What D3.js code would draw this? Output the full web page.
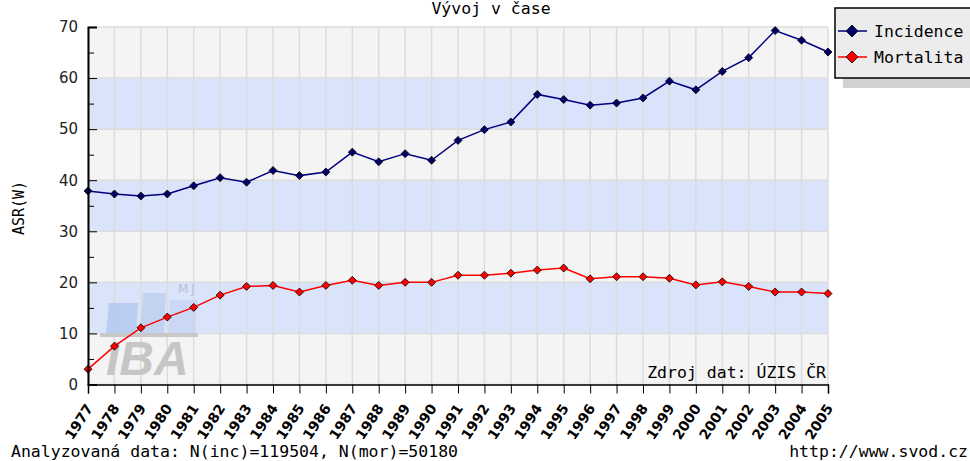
<!DOCTYPE html>
<html>
<head>
<meta charset="utf-8">
<script src="https://cdn.jsdelivr.net/npm/d3@7"></script>
<style>
  body { margin: 0; background: #fff; }
  svg { display: block; }
</style>
</head>
<body>
<svg width="970" height="461"></svg>
<script>
"use strict";

// Data
var years = d3.range(1977, 2006);
var incidence = [37.9, 37.3, 36.9, 37.3, 38.9, 40.5, 39.6, 41.9, 40.9, 41.6,
                 45.5, 43.6, 45.2, 43.9, 47.8, 49.9, 51.4, 56.8, 55.8, 54.7,
                 55.1, 56.1, 59.4, 57.7, 61.3, 64.0, 69.3, 67.4, 65.1];
var mortality = [3.0, 7.5, 11.1, 13.2, 15.1, 17.5, 19.2, 19.4, 18.1, 19.4,
                 20.4, 19.4, 20.0, 20.0, 21.4, 21.4, 21.8, 22.4, 22.8, 20.7,
                 21.1, 21.1, 20.8, 19.5, 20.1, 19.2, 18.1, 18.1, 17.8];
var seriesNames = ["Incidence", "Mortalita"];
var yMajor = [0, 10, 20, 30, 40, 50, 60, 70];
var yMinor = [5, 15, 25, 35, 45, 55, 65];

var mono = "'DejaVu Sans Mono', monospace";
var sans = "'DejaVu Sans', sans-serif";

var svg = d3.select("svg");

// Scales
var x = d3.scaleLinear().domain([1977, 2005]).range([88, 828]);
var y = d3.scaleLinear().domain([0, 70]).range([384.5, 27]);

// Background bands
var bands = d3.range(0, 70, 10);
svg.append("g")
    .selectAll("rect")
    .data(bands)
    .enter().append("rect")
    .attr("x", x(1977))
    .attr("y", function(d) { return y(d + 10); })
    .attr("width", x(2005) - x(1977))
    .attr("height", function(d) { return y(d) - y(d + 10); })
    .attr("fill", function(d) { return (d / 10) % 2 === 1 ? "#d9e3fa" : "#f4f4f4"; });

// Gridlines
var grid = svg.append("g").attr("stroke", "#dcdcdc").attr("stroke-width", 1.5);
grid.selectAll("line.v")
    .data(years)
    .enter().append("line")
    .attr("class", "v")
    .attr("x1", function(d) { return x(d); })
    .attr("x2", function(d) { return x(d); })
    .attr("y1", y(70))
    .attr("y2", y(0));
grid.selectAll("line.h")
    .data(yMajor)
    .enter().append("line")
    .attr("class", "h")
    .attr("x1", x(1977))
    .attr("x2", x(2005))
    .attr("y1", function(d) { return y(d); })
    .attr("y2", function(d) { return y(d); });

// Watermark logo
var logo = svg.append("g").attr("class", "logo");
logo.append("path")
    .attr("d", "M109,303 L138,303 L136,333 L106,333 Z")
    .attr("fill", "#9fbbeb").attr("opacity", 0.55);
logo.append("path")
    .attr("d", "M143,293 L166,293 L164,333 L140,333 Z")
    .attr("fill", "#a9c0ec").attr("opacity", 0.45);
logo.append("path")
    .attr("d", "M170,300 L197,300 L195,333 L168,333 Z")
    .attr("fill", "#b5c9f0").attr("opacity", 0.4);
logo.append("rect")
    .attr("x", 100).attr("y", 333).attr("width", 98).attr("height", 4)
    .attr("fill", "#c8c8c8");
logo.append("text")
    .attr("x", 106).attr("y", 375)
    .attr("font-family", "'Liberation Sans', Arial, sans-serif")
    .attr("font-weight", "bold")
    .attr("font-style", "italic")
    .attr("font-size", 48)
    .attr("fill", "#c6c6c6")
    .text("IBA");
logo.append("text")
    .attr("x", 178).attr("y", 293)
    .attr("font-family", sans)
    .attr("font-size", 12)
    .attr("letter-spacing", 3)
    .attr("fill", "#b4bfd8")
    .text("MJ");

// Source note
svg.append("text")
    .attr("x", 826).attr("y", 378)
    .attr("text-anchor", "end")
    .attr("font-family", mono)
    .attr("font-size", 16.5)
    .attr("fill", "#000")
    .text("Zdroj dat: ÚZIS ČR");

// Series
var series = [
    { name: seriesNames[0], values: incidence, color: "#000080", marker: "#000066" },
    { name: seriesNames[1], values: mortality, color: "#ff0000", marker: "#ff0000" }
];

var line = d3.line()
    .x(function(d, i) { return x(years[i]); })
    .y(function(d) { return y(d); });

var diamond = function(cx, cy, r) {
    return "M" + cx + "," + (cy - r) + " L" + (cx + r) + "," + cy +
           " L" + cx + "," + (cy + r) + " L" + (cx - r) + "," + cy + " Z";
};

series.forEach(function(s) {
    var g = svg.append("g");
    g.append("path")
        .attr("d", line(s.values))
        .attr("fill", "none")
        .attr("stroke", s.color)
        .attr("stroke-width", 1.5);
    g.selectAll("path.m")
        .data(s.values)
        .enter().append("path")
        .attr("class", "m")
        .attr("d", function(d, i) { return diamond(x(years[i]), y(d), 4); })
        .attr("fill", s.marker)
        .attr("stroke", "#000")
        .attr("stroke-width", 0.8);
});

// Y axis
var yAxis = d3.axisLeft(y)
    .tickValues(yMajor)
    .tickSize(-9)
    .tickPadding(10)
    .tickFormat(d3.format("d"));
var yg = svg.append("g")
    .attr("transform", "translate(" + x(1977) + ",0)")
    .call(yAxis);
yg.select(".domain").attr("stroke-width", 2);
yg.selectAll("text")
    .attr("font-family", sans)
    .attr("font-size", 15)
    .attr("fill", "#222");

svg.append("g")
    .attr("transform", "translate(" + x(1977) + ",0)")
    .call(d3.axisLeft(y).tickValues(yMinor).tickSize(-6).tickFormat(""))
    .select(".domain").remove();

// X axis
var xAxis = d3.axisBottom(x)
    .tickValues(years)
    .tickSize(9)
    .tickFormat(d3.format("d"));
var xg = svg.append("g")
    .attr("transform", "translate(0," + y(0) + ")")
    .call(xAxis);
xg.select(".domain").attr("stroke-width", 1.5);
xg.selectAll("text")
    .attr("font-family", sans)
    .attr("font-size", 14)
    .attr("font-weight", "bold")
    .attr("fill", "#000")
    .attr("text-anchor", "end")
    .attr("dy", "0.35em")
    .attr("transform", "translate(1,21) rotate(-57)")
    .attr("y", 0)
    .attr("x", 0);

// Y axis title
svg.append("text")
    .attr("transform", "translate(24,208) rotate(-90)")
    .attr("text-anchor", "middle")
    .attr("font-family", mono)
    .attr("font-size", 15)
    .text("ASR(W)");

// Chart title
svg.append("text")
    .attr("x", 491).attr("y", 14)
    .attr("text-anchor", "middle")
    .attr("font-family", mono)
    .attr("font-size", 16.5)
    .text("Vývoj v čase");

// Legend
var legend = svg.append("g");
legend.append("rect")
    .attr("x", 843).attr("y", 18).attr("width", 140).attr("height", 70)
    .attr("fill", "#d2d2d2");
legend.append("rect")
    .attr("x", 835).attr("y", 8).attr("width", 140).attr("height", 70)
    .attr("fill", "#ececec")
    .attr("stroke", "#000")
    .attr("stroke-width", 1.5);
series.forEach(function(s, i) {
    var ly = 31 + i * 26;
    legend.append("line")
        .attr("x1", 838).attr("x2", 867)
        .attr("y1", ly).attr("y2", ly)
        .attr("stroke", s.color)
        .attr("stroke-width", 1.5);
    legend.append("path")
        .attr("d", diamond(852, ly, 6))
        .attr("fill", s.marker)
        .attr("stroke", "#000")
        .attr("stroke-width", 0.8);
    legend.append("text")
        .attr("x", 874).attr("y", ly + 6)
        .attr("font-family", mono)
        .attr("font-size", 16.5)
        .text(s.name);
});

// Footer
svg.append("text")
    .attr("x", 11).attr("y", 457)
    .attr("font-family", mono)
    .attr("font-size", 16.5)
    .text("Analyzovaná data: N(inc)=119504, N(mor)=50180");
svg.append("text")
    .attr("x", 968).attr("y", 457)
    .attr("text-anchor", "end")
    .attr("font-family", mono)
    .attr("font-size", 16.5)
    .text("http://www.svod.cz");
</script>
</body>
</html>
